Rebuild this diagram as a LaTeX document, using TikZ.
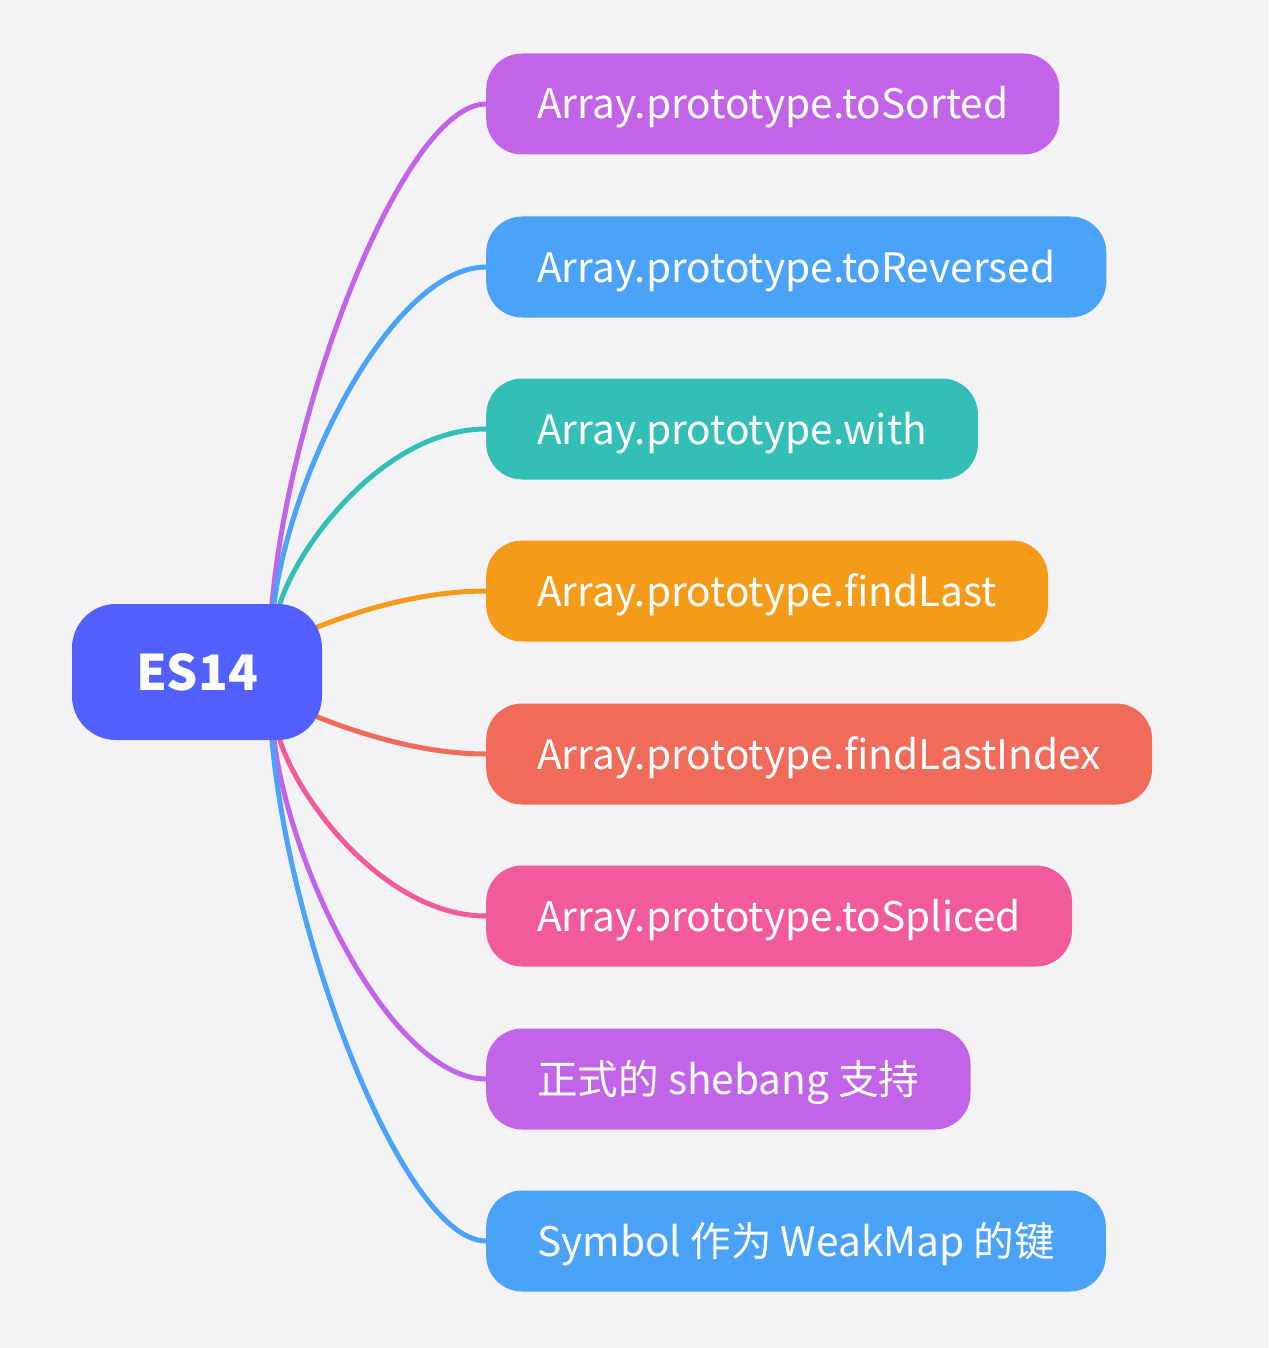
\documentclass[tikz,border=0pt]{standalone}
\usepackage{fontspec}
\setmainfont{Noto Sans CJK SC}
\definecolor{bgc}{HTML}{F3F3F6}
\definecolor{cpurple}{HTML}{C264E8}
\definecolor{cblue}{HTML}{4AA2F9}
\definecolor{cteal}{HTML}{33BFB6}
\definecolor{corange}{HTML}{F59B1A}
\definecolor{cred}{HTML}{F06B59}
\definecolor{cpink}{HTML}{F25B9B}
\definecolor{croot}{HTML}{5260FF}
\pgfdeclarelayer{bglayer}
\pgfdeclarelayer{lines}
\pgfsetlayers{bglayer,lines,main}
\tikzset{
  leaf/.style={fill=#1, text=white, anchor=west, rounded corners=36pt,
    inner xsep=51pt, inner ysep=0pt, minimum height=101pt,
    text height=30pt, text depth=0pt,
    font=\fontsize{40.6}{48}\selectfont},
  link/.style={draw=#1, line width=5pt, line cap=round},
  rootbox/.style={fill=croot, text=white, rounded corners=44pt,
    minimum width=250pt, minimum height=136pt, inner sep=0pt,
    text height=36pt, text depth=0pt,
    font=\fontsize{49}{56}\selectfont\bfseries}
}
\begin{document}
\begin{tikzpicture}[x=1pt,y=-1pt]
\begin{pgfonlayer}{bglayer}
\fill[bgc] (0,0) rectangle (1268,1348);
\end{pgfonlayer}
\useasboundingbox (0,0) rectangle (1268,1348);
\node[rootbox] (es) at (197,672) {ES14};
\node[leaf=cpurple] (n1) at (486,104) {Array.prototype.toSorted};
\node[leaf=cblue] (n2) at (486,267) {Array.prototype.toReversed};
\node[leaf=cteal] (n3) at (486,429) {Array.prototype.with};
\node[leaf=corange] (n4) at (486,591) {Array.prototype.findLast};
\node[leaf=cred] (n5) at (486,754) {Array.prototype.findLastIndex};
\node[leaf=cpink] (n6) at (486,916) {Array.prototype.toSpliced};
\node[leaf=cpurple] (n7) at (486,1079) {正式的 shebang 支持};
\node[leaf=cblue] (n8) at (486,1241) {Symbol 作为 WeakMap 的键};
\coordinate (t1) at ([xshift=75pt]es.north);
\coordinate (t2) at ([xshift=77pt]es.north);
\coordinate (t3) at ([xshift=83pt]es.north);
\coordinate (r4) at (315,628);
\coordinate (r5) at (315,716);
\coordinate (b6) at ([xshift=83pt]es.south);
\coordinate (b7) at ([xshift=77pt]es.south);
\coordinate (b8) at ([xshift=75pt]es.south);
\begin{pgfonlayer}{lines}
\draw[link=cpurple] (t1) .. controls (290,400) and (405,104) .. (n1.west);
\draw[link=cblue] (t2) .. controls (292,466) and (395,267) .. (n2.west);
\draw[link=cteal] (t3) .. controls (298,545) and (385,429) .. (n3.west);
\draw[link=corange] (r4) .. controls (370,606) and (430,591) .. (n4.west);
\draw[link=cred] (r5) .. controls (370,738) and (430,754) .. (n5.west);
\draw[link=cpink] (b6) .. controls (298,799) and (385,916) .. (n6.west);
\draw[link=cpurple] (b7) .. controls (292,878) and (395,1079) .. (n7.west);
\draw[link=cblue] (b8) .. controls (290,944) and (405,1241) .. (n8.west);
\end{pgfonlayer}
\end{tikzpicture}
\end{document}
